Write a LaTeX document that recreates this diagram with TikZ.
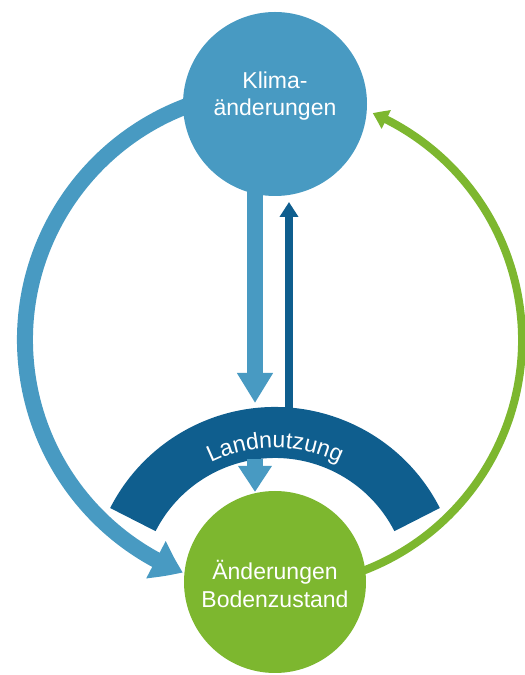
\documentclass[tikz,border=0pt]{standalone}
\usepackage{fontspec}
\setmainfont{Liberation Sans}
\usetikzlibrary{arrows.meta,bending,decorations.text,calc}
\definecolor{lblue}{RGB}{72,154,194}
\definecolor{dblue}{RGB}{15,94,142}
\definecolor{lgreen}{RGB}{125,183,47}
\begin{document}
\begin{tikzpicture}[x=1pt,y=1pt,
  lbl/.style={text=white, align=center, font=\fontsize{23}{27.5}\selectfont},
  bubble/.style={circle, minimum size=#1, inner sep=0pt},
  thick arrow/.style={lblue, line width=16pt},
  thin arrow/.style={dblue, line width=8pt}]
\useasboundingbox (0,0) rectangle (525,675);
\coordinate (mid) at (275,335);
\coordinate (bandc) at (275,83);
% outer arcs
\draw[lblue, line width=16pt, -{Triangle[width=40pt,length=30pt,bend]}]
  (mid) ++(100:250) arc[start angle=100, end angle=248.4, radius=250];
\draw[lgreen, line width=8pt, -{Triangle[width=20pt,length=15pt,bend]}]
  (mid) ++(-75:247) arc[start angle=-75, end angle=66.7, radius=247];
% vertical arrows
\coordinate (d1s) at (255,490);
\coordinate (d1e) at (255,272);
\coordinate (u1s) at (289,262);
\coordinate (u1e) at (289,473);
\coordinate (d2s) at (255,216);
\coordinate (d2e) at (255,183);
\draw[thick arrow, -{Triangle[width=34pt,length=30pt]}] (d1s) -- (d1e);
\draw[thin arrow, -{Triangle[width=18pt,length=15pt]}] (u1s) -- (u1e);
% band
\fill[dblue] (bandc) ++(27:185) arc[start angle=27, end angle=153, radius=185]
  -- ++(153:-51) arc[start angle=153, end angle=27, radius=134] -- cycle;
\path[decorate, decoration={text along path, text align=center,
  text={|\fontsize{23}{23}\selectfont\color{white}|Landnutzung}}]
  (bandc) ++(150:144) arc[start angle=150, end angle=30, radius=144];
\draw[thick arrow, -{Triangle[width=32pt,length=26pt]}] (d2s) -- (d2e);
% circles
\node[bubble=184, fill=lblue] (klima) at (275,571) {};
\node[lbl] (klimatxt) at (275,579) {Klima-\\änderungen};
\node[bubble=182, fill=lgreen] (boden) at (275,93) {};
\node[lbl] (bodentxt) at (275,91) {Änderungen\\Bodenzustand};
\end{tikzpicture}
\end{document}
